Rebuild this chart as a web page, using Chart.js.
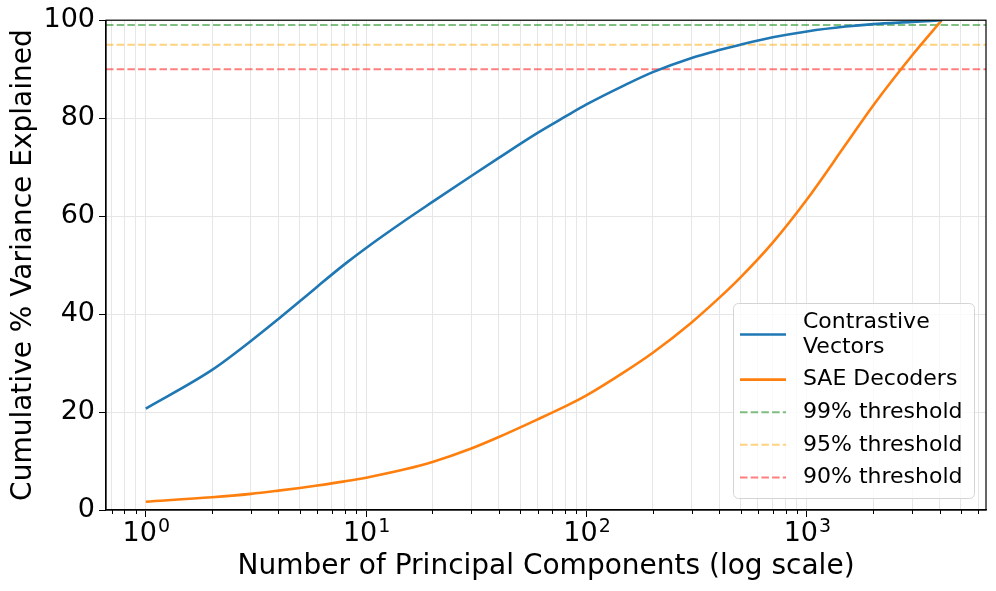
<!DOCTYPE html>
<html>
<head>
<meta charset="utf-8">
<script src="https://cdn.jsdelivr.net/npm/chart.js@4.4.1/dist/chart.umd.min.js"></script>
<style>
  html, body { margin: 0; padding: 0; background: #fff; }
  #wrap { width: 996px; height: 591px; position: relative; }
</style>
</head>
<body>
<div id="wrap"><canvas id="chart"></canvas></div>
<script>
// number of principal components (x, log scale)
const components = [1, 2, 3, 4, 5, 6, 8, 10, 15, 20, 30, 40, 60, 80, 100, 150, 200, 300, 400, 500, 700, 1000, 1500, 2000, 3000, 4096];
// cumulative % variance explained
const contrastive = [20.7, 28.6, 34.5, 39.0, 42.6, 45.6, 50.2, 53.5, 59.1, 62.9, 68.2, 71.9, 77.0, 80.3, 82.8, 86.8, 89.4, 92.3, 93.9, 95.0, 96.5, 97.7, 98.7, 99.2, 99.65, 100];
const saeDecoders = [1.7, 2.6, 3.3, 3.95, 4.5, 5.0, 5.85, 6.6, 8.3, 9.8, 12.55, 14.9, 18.5, 21.15, 23.4, 28.3, 32.1, 38.3, 43.3, 47.5, 54.6, 63.4, 74.6, 82.6, 92.8, 100];

const thresholds = [99, 95, 90];
const thresholdLabels = ['99% threshold', '95% threshold', '90% threshold'];
const thresholdColors = ['rgba(0,128,0,0.5)', 'rgba(255,165,0,0.5)', 'rgba(255,0,0,0.5)'];

const xMin = 0.66, xMax = 6500;
const xMajorTicks = [1, 10, 100, 1000];
const xMajorExponents = ['0', '1', '2', '3'];

const FONT = "'DejaVu Sans', sans-serif";
const GRID = '#e6e6e6';

// minor + major tick positions for the log axis
const xTickValues = [];
for (let e = -1; e <= 3; e++) {
    for (let m = 1; m <= 9; m++) {
        const v = m * Math.pow(10, e);
        if (v > xMin && v < xMax) xTickValues.push(Number(v.toPrecision(3)));
    }
}

const datasets = [
    {
        label: 'Contrastive Vectors',
        legendLines: ['Contrastive', 'Vectors'],
        data: components.map((c, i) => ({x: c, y: contrastive[i]})),
        borderColor: '#1f77b4',
        borderWidth: 2.6,
        cubicInterpolationMode: 'monotone'
    },
    {
        label: 'SAE Decoders',
        legendLines: ['SAE Decoders'],
        data: components.map((c, i) => ({x: c, y: saeDecoders[i]})),
        borderColor: '#ff7f0e',
        borderWidth: 2.6,
        cubicInterpolationMode: 'monotone'
    }
];
thresholds.forEach((t, i) => {
    datasets.push({
        label: thresholdLabels[i],
        legendLines: [thresholdLabels[i]],
        data: [{x: xMin, y: t}, {x: xMax, y: t}],
        borderColor: thresholdColors[i],
        borderWidth: 2,
        borderDash: [7.5, 3.2]
    });
});

// top/right spines, minor tick marks, 10^n labels and the framed legend
const framePlugin = {
    id: 'frame',
    afterDraw(chart) {
        const ctx = chart.ctx;
        const a = chart.chartArea;
        ctx.save();
        ctx.strokeStyle = '#000';
        ctx.lineWidth = 1.2;
        ctx.strokeRect(a.left, a.top, a.right - a.left, a.bottom - a.top);

        const xs = chart.scales.x;
        ctx.lineWidth = 1;
        xs.ticks.forEach(t => {
            if (xMajorTicks.includes(t.value)) return;
            const px = Math.round(xs.getPixelForValue(t.value)) + 0.5;
            ctx.beginPath();
            ctx.moveTo(px, a.bottom);
            ctx.lineTo(px, a.bottom + 4);
            ctx.stroke();
        });

        // x tick labels as 10 with a raised exponent
        ctx.fillStyle = '#000';
        ctx.textBaseline = 'alphabetic';
        ctx.textAlign = 'left';
        xMajorTicks.forEach((v, i) => {
            const px = xs.getPixelForValue(v);
            ctx.font = '27px ' + FONT;
            const wBase = ctx.measureText('10').width;
            ctx.font = '19px ' + FONT;
            const wExp = ctx.measureText(xMajorExponents[i]).width;
            const left = px - (wBase + wExp) / 2;
            ctx.font = '27px ' + FONT;
            ctx.fillText('10', left, a.bottom + 31);
            ctx.font = '19px ' + FONT;
            ctx.fillText(xMajorExponents[i], left + wBase + 1, a.bottom + 21.5);
        });

        // legend box
        const w = 241, h = 195;
        const x0 = a.right - 12 - w, y0 = a.bottom - 12 - h;
        ctx.beginPath();
        ctx.roundRect(x0 + 0.5, y0 + 0.5, w, h, 5);
        ctx.fillStyle = 'rgba(255,255,255,0.8)';
        ctx.fill();
        ctx.strokeStyle = '#d4d4d4';
        ctx.lineWidth = 1;
        ctx.stroke();

        ctx.font = '22px ' + FONT;
        ctx.fillStyle = '#000';
        ctx.textBaseline = 'middle';
        let y = y0 + 19;
        chart.data.datasets.forEach(ds => {
            const n = ds.legendLines.length;
            const mid = y + (n - 1) * 25 / 2;
            ctx.beginPath();
            ctx.strokeStyle = ds.borderColor;
            ctx.lineWidth = ds.borderWidth;
            ctx.setLineDash(ds.borderDash || []);
            ctx.moveTo(x0 + 7, mid);
            ctx.lineTo(x0 + 53, mid);
            ctx.stroke();
            ctx.setLineDash([]);
            ds.legendLines.forEach((line, k) => {
                ctx.fillText(line, x0 + 70, y + k * 25);
            });
            y += (n - 1) * 25 + 32.6;
        });
        ctx.restore();
    }
};

new Chart(document.getElementById('chart'), {
    type: 'line',
    data: {datasets: datasets},
    options: {
        responsive: true,
        maintainAspectRatio: false,
        animation: false,
        layout: {padding: {top: 20, right: 10, left: 0, bottom: 0}},
        elements: {point: {radius: 0}},
        plugins: {
            legend: {display: false},
            tooltip: {enabled: false}
        },
        scales: {
            x: {
                type: 'logarithmic',
                min: xMin,
                max: xMax,
                afterBuildTicks: (scale) => {
                    scale.ticks = xTickValues.map(v => ({value: v}));
                },
                afterFit: (scale) => { scale.height = 81; },
                ticks: {
                    autoSkip: false,
                    maxRotation: 0,
                    callback: () => ''
                },
                grid: {
                    color: GRID,
                    lineWidth: 1,
                    tickLength: 7,
                    tickColor: (c) => (c.tick && xMajorTicks.includes(c.tick.value)) ? '#000' : 'rgba(0,0,0,0)'
                },
                border: {color: '#000', width: 1.2},
                title: {
                    display: true,
                    text: 'Number of Principal Components (log scale)',
                    color: '#000',
                    font: {family: FONT, size: 28},
                    padding: {top: 0, bottom: 7}
                }
            },
            y: {
                min: 0,
                max: 100,
                afterFit: (scale) => { scale.width = 106; },
                ticks: {
                    stepSize: 20,
                    padding: 4,
                    color: '#000',
                    font: {family: FONT, size: 27}
                },
                grid: {
                    color: GRID,
                    lineWidth: 1,
                    tickLength: 7,
                    tickColor: '#000'
                },
                border: {color: '#000', width: 1.2},
                title: {
                    display: true,
                    text: 'Cumulative % Variance Explained',
                    color: '#000',
                    font: {family: FONT, size: 28},
                    padding: {top: 7, bottom: 0}
                }
            }
        }
    },
    plugins: [framePlugin]
});
</script>
</body>
</html>
